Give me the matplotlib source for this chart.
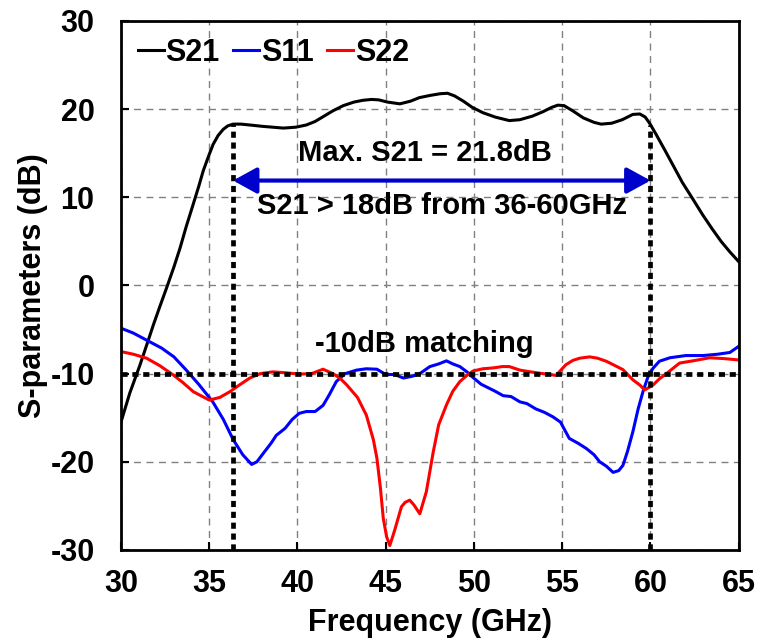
import numpy as np
import matplotlib.pyplot as plt

plt.rcParams['font.family'] = ['Liberation Sans', 'DejaVu Sans']
plt.rcParams['font.weight'] = 'bold'
plt.rcParams['axes.unicode_minus'] = False

# S21 (black)
s21_f = [30, 30.5, 31.08, 31.5, 31.83, 32.2, 32.58, 33, 33.34, 33.7, 34.09, 34.4, 34.66, 34.95,
         35.22, 35.5, 35.79, 36.05, 36.36, 36.8, 37.3, 38, 38.6, 39.2, 39.9, 40.5, 41.0, 41.5,
         42, 42.6, 43.2, 43.7, 44.2, 44.6, 45.1, 45.8, 46.4, 46.9, 47.5, 48.1, 48.5, 48.9,
         49.4, 49.9, 50.5, 51.2, 52.0, 52.6, 53.3, 53.9, 54.4, 54.75, 55.1, 55.6, 56.2, 56.8,
         57.2, 57.8, 58.4, 59.0, 59.4, 59.7, 59.95, 60.3, 60.8, 61.26, 61.8, 62.4, 62.96,
         63.5, 64.0, 64.5, 65]
s21_db = [-15.5, -12.2, -9.0, -6.5, -4.5, -2.4, -0.3, 2.1, 4.2, 6.7, 9.2, 11.2, 13.0, 14.6,
          16.0, 17.0, 17.7, 18.1, 18.3, 18.3, 18.2, 18.05, 17.95, 17.85, 17.95, 18.2, 18.6, 19.2,
          19.8, 20.4, 20.8, 21.0, 21.1, 21.05, 20.8, 20.6, 20.9, 21.3, 21.55, 21.75, 21.8, 21.5,
          20.9, 20.2, 19.6, 19.1, 18.7, 18.8, 19.2, 19.7, 20.2, 20.45, 20.4, 19.8, 19.0, 18.5,
          18.3, 18.4, 18.8, 19.4, 19.45, 19.1, 18.4, 17.2, 15.4, 13.7, 11.7, 9.8, 8.0,
          6.4, 5.0, 3.8, 2.7]

# S11 (blue)
s11_f = [30, 30.7, 31.45, 32.3, 33.0, 33.7, 34.4, 35.2, 35.8, 36.36, 36.9, 37.4, 37.7, 38.06,
         38.5, 38.8, 39.3, 39.7, 40.1, 40.5, 41.0, 41.45, 41.8, 42.2, 42.7, 43.35, 43.9, 44.5,
         45.0, 45.5, 46.0, 46.5, 46.93, 47.5, 48.0, 48.44, 48.8, 49.2, 49.6, 49.95, 50.4, 50.9,
         51.2, 51.65, 52.1, 52.6, 53.0, 53.5, 54.0, 54.47, 54.9, 55.4, 55.9, 56.37, 56.8, 57.12,
         57.5, 57.88, 58.2, 58.44, 58.7, 59.0, 59.3, 59.58, 59.85, 60.14, 60.5, 61.1, 62.0,
         62.97, 63.8, 64.5, 65]
s11_db = [-4.85, -5.4, -6.2, -7.1, -8.1, -9.6, -11.2, -13.2, -15.2, -17.5, -19.2, -20.3, -20.0, -19.05,
          -17.9, -17.0, -16.2, -15.2, -14.5, -14.3, -14.3, -13.6, -12.4, -10.9, -10.0, -9.6, -9.45, -9.5,
          -10.1, -10.1, -10.5, -10.3, -10.0, -9.2, -8.9, -8.55, -8.9, -9.2, -9.8, -10.45, -11.2, -11.7,
          -12.0, -12.5, -12.6, -13.2, -13.4, -14.0, -14.4, -14.9, -15.5, -17.35, -17.9, -18.5, -19.2, -20.0,
          -20.5, -21.2, -21.0, -20.4, -18.8, -16.6, -14.0, -12.0, -10.4, -9.4, -8.6, -8.2, -7.95,
          -7.95, -7.8, -7.6, -6.9]

# S22 (red)
s22_f = [30, 30.7, 31.45, 32.2, 32.96, 33.5, 34.1, 35.0, 35.6, 36.17, 36.7, 37.3, 37.9, 38.6,
         39.3, 40.1, 40.8, 41.45, 42.0, 42.4, 42.8, 43.4, 43.9, 44.3, 44.5, 44.7, 44.86, 45.05, 45.23,
         45.5, 45.89, 46.1, 46.36, 46.6, 46.93, 47.3, 47.69, 48.0, 48.44, 48.8, 49.2, 49.6, 49.95,
         50.5, 51.1, 51.6, 52.0, 52.6, 53.2, 53.9, 54.65, 55.2, 55.6, 55.99, 56.55, 57.0, 57.5,
         58.0, 58.44, 59.0, 59.4, 59.67, 60.14, 60.5, 60.9, 61.65, 62.4, 63.35, 64.2, 65]
s22_db = [-7.5, -7.8, -8.25, -9.1, -10.15, -11.0, -12.05, -13.0, -12.7, -12.05, -11.3, -10.5, -10.0, -9.8,
          -9.9, -10.05, -10.0, -9.5, -10.0, -10.5, -11.3, -12.7, -14.7, -17.5, -19.6, -23.0, -26.4, -28.5,
          -29.5, -27.8, -25.1, -24.6, -24.35, -24.9, -25.9, -23.4, -18.9, -15.8, -13.55, -12.0, -10.9, -10.2,
          -9.7, -9.45, -9.35, -9.2, -9.2, -9.6, -9.8, -10.0, -10.2, -9.0, -8.5, -8.25, -8.1, -8.25, -8.6,
          -9.1, -9.55, -10.7, -11.3, -11.85, -11.3, -10.6, -10.0, -8.8, -8.55, -8.2, -8.3, -8.45]

x_ticks = [30, 35, 40, 45, 50, 55, 60, 65]
y_ticks = [-30, -20, -10, 0, 10, 20, 30]
band_lo, band_hi = 36.35, 60.0
arrow_db = 11.9
match_db = -10

fig = plt.figure(figsize=(7.58, 6.43), dpi=100)
ax = fig.add_axes([0.1596, 0.1447, 0.815, 0.8227])

ax.grid(True, linestyle=(0, (5, 4)), color='gray', linewidth=1.0)
ax.set_axisbelow(True)

ax.plot(s21_f, s21_db, color='black', lw=2.2, label='S21')
ax.plot(s11_f, s11_db, color='blue', lw=2.2, label='S11')
ax.plot(s22_f, s22_db, color='red', lw=2.2, label='S22')

dot = (0, (1.3, 1.0))
ax.plot([30, 65], [match_db, match_db], color='black', lw=3.4, linestyle=dot)
ax.plot([band_lo, band_lo], [-30, np.interp(band_lo, s21_f, s21_db)], color='black', lw=3.4, linestyle=dot)
ax.plot([band_hi, band_hi], [-30, np.interp(band_hi, s21_f, s21_db)], color='black', lw=3.4, linestyle=dot)

ax.annotate('', xy=(band_hi, arrow_db), xytext=(band_lo, arrow_db),
            arrowprops=dict(arrowstyle='<|-|>,head_length=0.4,head_width=0.22', color='#0000cc', lw=3,
                            mutation_scale=36, shrinkA=0, shrinkB=0))
ax.text(47.2, 15.0, 'Max. S21 = 21.8dB', ha='center', va='center', fontsize=21, fontweight='bold')
ax.text(48.2, 9.0, 'S21 > 18dB from 36-60GHz', ha='center', va='center', fontsize=21, fontweight='bold')
ax.text(47.2, -6.6, '-10dB matching', ha='center', va='center', fontsize=21, fontweight='bold')

ax.set_xlim(30, 65)
ax.set_ylim(-30, 30)
ax.set_xticks(x_ticks)
ax.set_yticks(y_ticks)
ax.tick_params(direction='in', length=6, width=1.5, labelsize=22)
ax.tick_params(axis='x', pad=14)
ax.tick_params(axis='y', pad=19)
for lbl in ax.get_xticklabels() + ax.get_yticklabels():
    lbl.set_fontweight('bold')
for sp in ax.spines.values():
    sp.set_linewidth(2)
ax.set_xlabel('Frequency (GHz)', fontsize=22, fontweight='bold', labelpad=6)
ax.set_ylabel('S-parameters (dB)', fontsize=22, fontweight='bold', labelpad=2)

leg = ax.legend(loc='upper left', bbox_to_anchor=(0.0, 1.0), ncol=3, frameon=False,
                handlelength=0.85, handletextpad=0.05, columnspacing=0.45,
                prop={'size': 22, 'weight': 'bold'}, borderaxespad=0.15)

fig.savefig('out.png', dpi=100)
